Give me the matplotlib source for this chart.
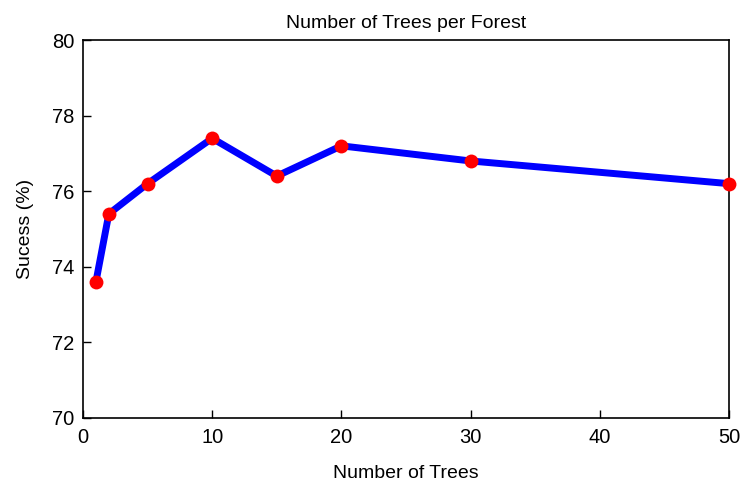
import matplotlib
matplotlib.use('Agg')
import matplotlib.pyplot as plt

# number of trees per forest vs. success rate
n_trees = [1, 2, 5, 10, 15, 20, 30, 50]
success = [73.6, 75.4, 76.2, 77.4, 76.4, 77.2, 76.8, 76.2]

plt.rcParams['font.family'] = 'Liberation Sans'

fig = plt.figure(figsize=(7.43, 4.91), dpi=100)
ax = fig.add_axes([0.1117, 0.1487, 0.8694, 0.7698])

ax.plot(n_trees, success, color='#0000ff', linewidth=5, solid_capstyle='butt',
        zorder=2)
ax.plot(n_trees, success, linestyle='none', marker='o', markersize=10,
        color='#ff0000', markeredgewidth=0, zorder=3, clip_on=False)

ax.set_xlim(0, 50)
ax.set_ylim(70, 80)
ax.set_xticks([0, 10, 20, 30, 40, 50])
ax.set_yticks([70, 72, 74, 76, 78, 80])
ax.tick_params(direction='in', length=6, width=1, labelsize=14.5, pad=7,
               top=False, right=False)
ax.tick_params(axis='y', pad=6)
for s in ax.spines.values():
    s.set_linewidth(1.2)

ax.set_title('Number of Trees per Forest', fontsize=14, pad=9)
ax.set_xlabel('Number of Trees', fontsize=14, labelpad=13)
ax.set_ylabel('Sucess (%)', fontsize=14, labelpad=13)

fig.savefig('out.png', dpi=100)
